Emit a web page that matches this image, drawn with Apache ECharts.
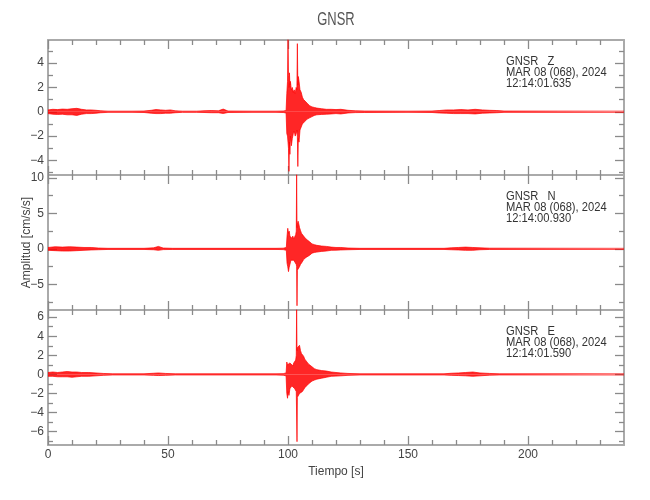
<!DOCTYPE html>
<html><head><meta charset="utf-8">
<script src="https://cdn.jsdelivr.net/npm/echarts@6/dist/echarts.min.js"></script>
<style>html,body{margin:0;padding:0;background:#fff}#c{width:650px;height:500px}</style>
</head><body><div id="c"></div>
<script>
// ---- data (time [s], upper envelope, lower envelope) in cm/s/s ----
const titleText = 'GNSR';
const xTicks = [0, 50, 100, 150, 200];
const xMinorTicks = [10, 20, 30, 40, 60, 70, 80, 90, 110, 120, 130, 140, 160, 170, 180, 190, 210, 220, 230];

const zLabel = ['GNSR   Z', 'MAR 08 (068), 2024', '12:14:01.635'];
const nLabel = ['GNSR   N', 'MAR 08 (068), 2024', '12:14:00.930'];
const eLabel = ['GNSR   E', 'MAR 08 (068), 2024', '12:14:01.590'];

const zTicks = [-4, -2, 0, 2, 4];
const zMinorTicks = [-5, -3, -1, 1, 3, 5];
const nTicks = [-5, 0, 5, 10];
const nMinorTicks = [-7.5, -2.5, 2.5, 7.5];
const eTicks = [-6, -4, -2, 0, 2, 4, 6];
const eMinorTicks = [-7, -5, -3, -1, 1, 3, 5];

const zData = [[0,0.15,-0.15],[2,0.2,-0.2],[4,0.18,-0.22],[6,0.22,-0.2],[8,0.2,-0.25],[10,0.25,-0.25],[12,0.28,-0.3],[14,0.2,-0.2],[16,0.15,-0.15],[18,0.15,-0.15],[20,0.12,-0.12],[22,0.08,-0.08],[25,0.05,-0.05],[35,0.05,-0.05],[40,0.06,-0.06],[43,0.12,-0.12],[45,0.18,-0.15],[47,0.15,-0.15],[49,0.12,-0.12],[51,0.15,-0.12],[53,0.08,-0.08],[56,0.05,-0.05],[62,0.05,-0.05],[65,0.08,-0.06],[68,0.1,-0.08],[71,0.08,-0.08],[73,0.22,-0.14],[75,0.06,-0.06],[85,0.05,-0.05],[95,0.05,-0.05],[98,0.06,-0.06],[99.2,0.1,-0.1],[99.5,1.5,-1.8],[99.8,2.5,-2.0],[100.0,6.2,-2.5],[100.2,3.0,-3.0],[100.4,2.0,-4.9],[100.6,3.2,-2.5],[100.8,2.2,-3.5],[101.0,2.5,-2.0],[101.4,1.8,-2.8],[101.8,2.0,-2.2],[102.2,1.6,-1.8],[102.6,1.8,-1.6],[103.0,1.5,-2.0],[103.4,2.0,-1.8],[103.7,1.8,-1.5],[103.9,5.6,-2.0],[104.1,2.2,-4.5],[104.3,2.9,-2.2],[104.6,2.5,-2.5],[105.0,1.8,-1.5],[105.5,1.6,-1.4],[106,1.2,-1.0],[106.5,1.0,-0.9],[107,0.9,-0.8],[108,0.7,-0.6],[109,0.5,-0.5],[110,0.4,-0.4],[111,0.35,-0.3],[112,0.3,-0.25],[114,0.25,-0.22],[116,0.2,-0.2],[118,0.2,-0.18],[120,0.18,-0.15],[122,0.2,-0.18],[125,0.12,-0.1],[128,0.08,-0.07],[132,0.06,-0.06],[150,0.05,-0.05],[160,0.06,-0.06],[163,0.1,-0.1],[166,0.15,-0.12],[169,0.15,-0.15],[172,0.18,-0.15],[175,0.15,-0.15],[178,0.2,-0.18],[181,0.15,-0.12],[184,0.12,-0.1],[187,0.1,-0.08],[190,0.06,-0.05],[240,0.05,-0.05]];

const nData = [[0,0.2,-0.2],[3,0.3,-0.25],[6,0.25,-0.3],[9,0.3,-0.3],[12,0.25,-0.25],[15,0.2,-0.2],[18,0.2,-0.15],[21,0.12,-0.12],[25,0.08,-0.08],[40,0.08,-0.08],[44,0.15,-0.12],[46,0.35,-0.2],[48,0.12,-0.1],[52,0.08,-0.08],[95,0.08,-0.08],[98,0.1,-0.1],[99.3,0.2,-0.2],[99.6,1.8,-2.0],[99.9,2.9,-2.5],[100.2,2.2,-3.2],[100.5,2.5,-2.6],[100.8,1.8,-2.2],[101.2,1.7,-1.6],[101.6,1.5,-1.8],[102.0,1.8,-1.5],[102.4,1.4,-1.6],[102.8,1.6,-1.4],[103.2,2.0,-1.8],[103.45,2.5,-2.2],[103.6,10.6,-2.5],[103.75,3.0,-8.0],[103.9,3.5,-3.0],[104.2,3.9,-2.8],[104.5,3.5,-3.0],[104.8,3.0,-2.5],[105.2,2.6,-2.2],[105.6,2.2,-2.0],[106,2.0,-1.8],[106.5,1.8,-1.5],[107,1.6,-1.4],[107.5,1.4,-1.2],[108,1.3,-1.1],[109,1.0,-0.9],[110,0.7,-0.6],[111,0.6,-0.5],[112,0.5,-0.45],[114,0.4,-0.35],[116,0.35,-0.3],[118,0.25,-0.2],[120,0.2,-0.18],[122,0.2,-0.15],[125,0.12,-0.12],[130,0.08,-0.08],[165,0.08,-0.08],[168,0.15,-0.12],[171,0.2,-0.15],[174,0.25,-0.2],[177,0.2,-0.2],[180,0.15,-0.12],[184,0.1,-0.08],[240,0.08,-0.08]];

const eData = [[0,0.2,-0.2],[2,0.25,-0.2],[4,0.2,-0.25],[6,0.25,-0.25],[8,0.3,-0.25],[10,0.25,-0.3],[12,0.25,-0.25],[14,0.2,-0.2],[17,0.2,-0.2],[20,0.15,-0.15],[23,0.1,-0.1],[27,0.06,-0.06],[40,0.06,-0.06],[44,0.12,-0.1],[46,0.15,-0.12],[49,0.1,-0.1],[53,0.06,-0.06],[95,0.06,-0.06],[98,0.08,-0.08],[99.2,0.15,-0.15],[99.5,1.3,-2.0],[99.8,1.0,-2.5],[100.1,1.2,-1.8],[100.4,1.0,-2.2],[100.8,1.2,-1.5],[101.2,1.0,-1.4],[101.6,1.1,-1.2],[102.0,0.9,-1.3],[102.4,1.2,-1.1],[102.8,1.0,-1.5],[103.2,1.5,-1.3],[103.45,2.0,-1.8],[103.6,6.9,-2.0],[103.75,2.5,-7.05],[103.9,2.8,-2.4],[104.2,3.0,-2.2],[104.5,2.7,-2.4],[104.8,3.05,-2.0],[105.2,2.5,-2.2],[105.6,2.2,-1.9],[106,2.0,-1.8],[106.5,1.9,-1.6],[107,1.6,-1.4],[107.5,1.5,-1.3],[108.5,1.1,-1.0],[110,0.8,-0.7],[111,0.6,-0.6],[112,0.5,-0.5],[114,0.4,-0.4],[116,0.35,-0.3],[118,0.25,-0.2],[120,0.2,-0.18],[122,0.15,-0.15],[125,0.1,-0.1],[130,0.06,-0.06],[165,0.06,-0.06],[168,0.12,-0.1],[171,0.15,-0.12],[174,0.2,-0.15],[177,0.25,-0.2],[180,0.15,-0.15],[184,0.1,-0.08],[188,0.06,-0.06],[240,0.06,-0.06]];

// ---- chart ----
const FONT = "'Liberation Sans','Arimo',Arial,sans-serif";
const AXC = '#aaaaaa', TKC = '#8a8a8a', TXC = '#444444';
const panels = [
  {data: zData, min: -5.2, max: 5.9, ticks: zTicks, minor: zMinorTicks, label: zLabel, top: 40},
  {data: nData, min: -8.6, max: 10.4, ticks: nTicks, minor: nMinorTicks, label: nLabel, top: 175},
  {data: eData, min: -7.4, max: 6.75, ticks: eTicks, minor: eMinorTicks, label: eLabel, top: 310}
];
const fmt = v => String(v).replace('-', '\u2212');
const grids = [], xAxes = [], yAxes = [], series = [], graphics = [];

function axis(gi, pos, vals, len, withLine, labels, extra) {
  return Object.assign({
    type: 'value', gridIndex: gi, position: pos,
    axisLine: {show: withLine, onZero: false, lineStyle: {color: AXC, width: 2}},
    axisTick: {show: true, inside: true, length: len, customValues: vals, lineStyle: {color: TKC, width: 1.3}},
    axisLabel: labels ? {show: true, customValues: labels, formatter: fmt, color: TXC, fontFamily: FONT, fontSize: 12, margin: 4} : {show: false},
    splitLine: {show: false}, minorTick: {show: false}
  }, extra);
}

panels.forEach((p, i) => {
  grids.push({left: 48, right: 26, top: p.top, height: 135});
  const bottom = i === 2;
  const xr = {min: 0, max: 240};
  xAxes.push(axis(i, 'bottom', xTicks, 9, true, bottom ? xTicks : null, Object.assign({}, xr, bottom ? {
    name: 'Tiempo [s]', nameLocation: 'middle', nameGap: 21, nameMoveOverlap: false,
    nameTextStyle: {color: TXC, fontFamily: FONT, fontSize: 12}
  } : {})));
  xAxes.push(axis(i, 'bottom', xMinorTicks, 5, false, null, xr));
  xAxes.push(axis(i, 'top', xTicks, 9, true, null, xr));
  xAxes.push(axis(i, 'top', xMinorTicks, 5, false, null, xr));
  const yr = {min: p.min, max: p.max};
  yAxes.push(axis(i, 'left', p.ticks, 9, true, p.ticks, Object.assign({}, yr, i === 1 ? {
    name: 'Amplitud [cm/s/s]', nameLocation: 'middle', nameGap: 15, nameMoveOverlap: false,
    nameTextStyle: {color: TXC, fontFamily: FONT, fontSize: 12}
  } : {})));
  yAxes.push(axis(i, 'left', p.minor, 5, false, null, yr));
  yAxes.push(axis(i, 'right', p.ticks, 9, true, null, yr));
  yAxes.push(axis(i, 'right', p.minor, 5, false, null, yr));

  const common = {
    type: 'line', xAxisIndex: 4 * i, yAxisIndex: 4 * i, showSymbol: false, symbol: 'none',
    lineStyle: {color: '#ff0000', width: 0.7}, itemStyle: {color: '#ff0000'},
    areaStyle: {color: '#ff0000', opacity: 0.85, origin: 0}, clip: true, silent: true
  };
  series.push(Object.assign({}, common, {data: p.data.map(d => [d[0], d[1]])}));
  series.push(Object.assign({}, common, {data: p.data.map(d => [d[0], d[2]])}));

  graphics.push({
    type: 'text', x: 506, y: p.top + 16, scaleX: 0.86, silent: true,
    style: {text: p.label.join('\n'), fill: '#333', fontFamily: FONT, fontSize: 13, lineHeight: 11}
  });
});

graphics.push({
  type: 'text', x: 336, y: 20, scaleX: 0.72, silent: true,
  style: {text: titleText, fill: '#555', fontFamily: FONT, fontSize: 18, align: 'center', verticalAlign: 'middle'}
});

const chart = echarts.init(document.getElementById('c'), null, {renderer: 'canvas'});
chart.setOption({
  animation: false,
  backgroundColor: '#fff',
  grid: grids, xAxis: xAxes, yAxis: yAxes, series: series, graphic: graphics
});
</script></body></html>
